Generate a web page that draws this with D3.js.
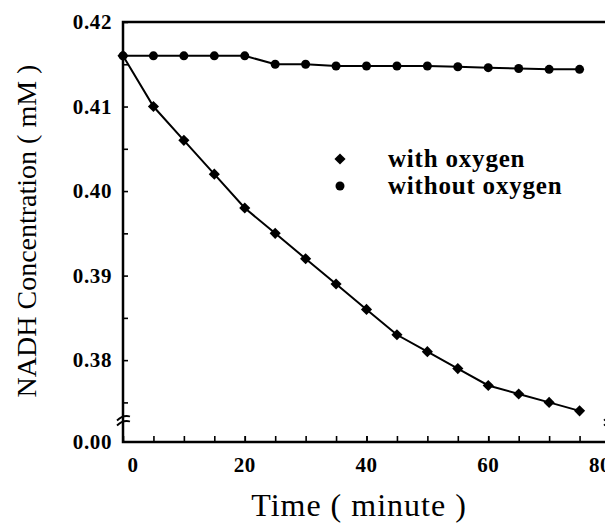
<!DOCTYPE html>
<html>
<head>
<meta charset="utf-8">
<script src="https://cdn.jsdelivr.net/npm/d3@7"></script>
<style>
  body { margin: 0; background: #fff; }
  svg { display: block; }
</style>
</head>
<body>
<div id="main"></div>
<script>
// data
const time = [0, 5, 10, 15, 20, 25, 30, 35, 40, 45, 50, 55, 60, 65, 70, 75];
const withOxygen = [0.4160, 0.4100, 0.4060, 0.4020, 0.3980, 0.3950, 0.3920, 0.3890,
                    0.3860, 0.3830, 0.3810, 0.3790, 0.3770, 0.3760, 0.3750, 0.3740];
const withoutOxygen = [0.4160, 0.4160, 0.4160, 0.4160, 0.4160, 0.4150, 0.4150, 0.4148,
                       0.4148, 0.4148, 0.4148, 0.4147, 0.4146, 0.4145, 0.4144, 0.4144];
const xTicks = [0, 20, 40, 60, 80];
const xMinorTicks = d3.range(5, 80, 5);
const yTicks = [0.38, 0.39, 0.40, 0.41, 0.42];
const yMinorTicks = [0.375, 0.385, 0.395, 0.405, 0.415];
const seriesNames = ["with oxygen", "without oxygen"];

const c = {width: 605, height: 523, left: 123, right: 610, top: 22, bottom: 442};
const breakValue = 0.3728;

const svg = d3.select("#main").append("svg")
  .attr("width", c.width)
  .attr("height", c.height);

const x = d3.scaleLinear().domain([0, 80]).range([c.left, c.right]);
// broken y axis: 0.00 at the bottom, then a jump to the 0.37x range
const y = d3.scaleLinear().domain([0, breakValue, 0.42]).range([c.bottom, 421, c.top]);

const serif = "'Liberation Serif', 'Times New Roman', serif";

// frame
svg.append("path")
  .attr("d", `M${c.left},${c.top}H${c.right}V${c.bottom}H${c.left}Z`)
  .attr("fill", "none")
  .attr("stroke", "#000")
  .attr("stroke-width", 2.5);

// x axis ticks (inward)
const xAxis = d3.axisTop(x).tickValues(xTicks.concat(xMinorTicks)).tickSize(6).tickFormat("");
svg.append("g")
  .attr("transform", `translate(0,${c.bottom})`)
  .call(xAxis)
  .call(g => g.select(".domain").remove())
  .call(g => g.selectAll(".tick line").attr("stroke-width", 1.6));

// y axis ticks (inward)
const yAxis = d3.axisRight(y).tickValues(yTicks.concat(yMinorTicks)).tickSize(5).tickFormat("");
svg.append("g")
  .attr("transform", `translate(${c.left},0)`)
  .call(yAxis)
  .call(g => g.select(".domain").remove())
  .call(g => g.selectAll(".tick line").attr("stroke-width", 1.6));

// tick labels
svg.append("g")
  .selectAll("text")
  .data(yTicks.concat([0]))
  .join("text")
  .attr("x", 112)
  .attr("y", d => y(d) + 7)
  .attr("text-anchor", "end")
  .attr("font-family", serif)
  .attr("font-weight", "bold")
  .attr("font-size", 21)
  .attr("letter-spacing", 0.6)
  .text(d => d3.format(".2f")(d));

svg.append("g")
  .selectAll("text")
  .data(xTicks)
  .join("text")
  .attr("x", d => x(d) + (d === 0 ? 10 : d === 80 ? -10 : 0))
  .attr("y", 472)
  .attr("text-anchor", "middle")
  .attr("font-family", serif)
  .attr("font-weight", "bold")
  .attr("font-size", 21)
  .attr("letter-spacing", 0.6)
  .text(d => d);

// axis break marks
const breakY = y(breakValue);
[c.left, c.right].forEach(bx => {
  [-2.5, 2.5].forEach(off => {
    svg.append("path")
      .attr("d", `M${bx - 6},${breakY + off + 2}Q${bx},${breakY + off - 4} ${bx + 7},${breakY + off - 2}`)
      .attr("fill", "none")
      .attr("stroke", "#000")
      .attr("stroke-width", 1.8);
  });
});

// series
const line = d3.line().x(d => x(d[0])).y(d => y(d[1]));
const withPts = time.map((t, i) => [t, withOxygen[i]]);
const withoutPts = time.map((t, i) => [t, withoutOxygen[i]]);

[withPts, withoutPts].forEach(pts => {
  svg.append("path")
    .datum(pts)
    .attr("d", line)
    .attr("fill", "none")
    .attr("stroke", "#000")
    .attr("stroke-width", 2);
});

const diamond = d3.symbol().type(d3.symbolSquare).size(62);

svg.append("g")
  .selectAll("path")
  .data(withPts)
  .join("path")
  .attr("d", diamond)
  .attr("transform", d => `translate(${x(d[0])},${y(d[1])}) rotate(45)`)
  .attr("fill", "#000");

svg.append("g")
  .selectAll("circle")
  .data(withoutPts)
  .join("circle")
  .attr("cx", d => x(d[0]))
  .attr("cy", d => y(d[1]))
  .attr("r", 4.5)
  .attr("fill", "#000");

// legend
const legend = svg.append("g");
legend.append("path")
  .attr("d", diamond)
  .attr("transform", "translate(340,159) rotate(45)")
  .attr("fill", "#000");
legend.append("circle")
  .attr("cx", 340)
  .attr("cy", 186)
  .attr("r", 4.5)
  .attr("fill", "#000");
legend.selectAll("text")
  .data(seriesNames)
  .join("text")
  .attr("x", 388)
  .attr("y", (d, i) => 167 + i * 27)
  .attr("font-family", serif)
  .attr("font-weight", "bold")
  .attr("font-size", 25)
  .attr("letter-spacing", 0.8)
  .text(d => d);

// axis titles
svg.append("text")
  .attr("x", 359)
  .attr("y", 516)
  .attr("text-anchor", "middle")
  .attr("font-family", serif)
  .attr("font-size", 32)
  .attr("letter-spacing", 1)
  .text("Time ( minute )");

svg.append("text")
  .attr("transform", "translate(36,231) rotate(-90)")
  .attr("text-anchor", "middle")
  .attr("font-family", serif)
  .attr("font-size", 28)
  .text("NADH Concentration ( mM )");
</script>
</body>
</html>
